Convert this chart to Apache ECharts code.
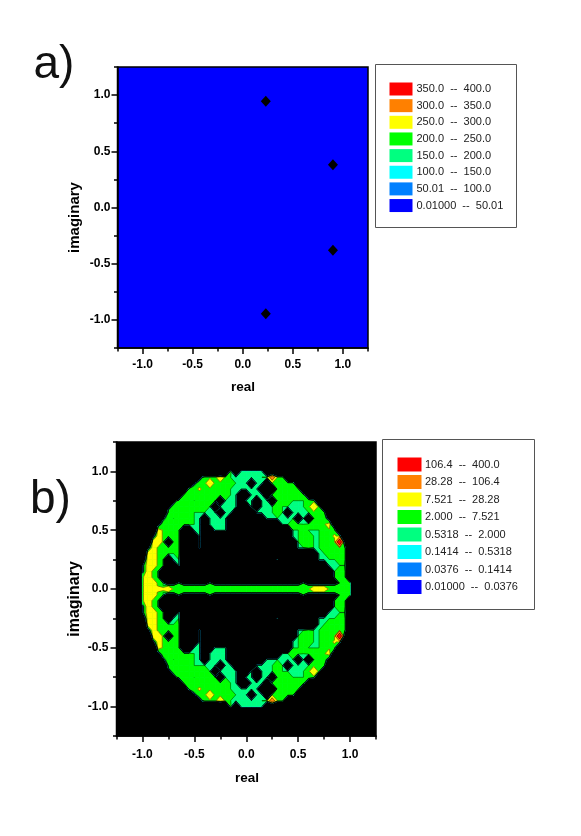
<!DOCTYPE html>
<html>
<head>
<meta charset="utf-8">
<title>contour</title>
<script src="https://cdn.jsdelivr.net/npm/echarts@6/dist/echarts.min.js"></script>
<style>
html, body { margin: 0; padding: 0; background: #fff; }
#main { width: 581px; height: 836px; }
</style>
</head>
<body>
<div id="main"></div>
<script>
// panel a: the four marked points
var pointsA = [[0.23, 0.945], [0.9, 0.38], [0.9, -0.38], [0.23, -0.945]];

// panel b: grid, x = -1.0 .. 1.0 step 0.05, upper half only (lower half is its mirror)
var rowY = [1.0, 0.95, 0.9, 0.85, 0.8, 0.75, 0.7, 0.65, 0.6, 0.55, 0.5, 0.45, 0.4, 0.35, 0.3, 0.25, 0.2, 0.15, 0.1, 0.05, 0.03];
var centreRow = "23333 32222 22222 22222 22222 22222 22233 32222 2";
var upperRows = [
  "00000 00000 00000 00201 11110 00000 00000 00000 0",
  "00000 00000 08222 32111 11112 42200 00000 00000 0",
  "00000 00000 92232 22211 10110 22222 00000 00000 0",
  "00000 00002 26222 22111 11100 02222 20000 00000 0",
  "00000 00022 22222 22110 01110 22222 22700 00000 0",
  "00000 08222 12221 01110 11011 02221 11220 00000 0",
  "00000 82222 22210 11110 01011 12111 11232 00000 0",
  "00000 22222 11111 01100 00111 12101 11122 20000 0",
  "00009 21222 11011 11000 00001 11111 01012 28000 0",
  "00082 22222 11011 11000 00000 00112 21222 23700 0",
  "00032 22200 11001 11000 00000 00001 12111 22200 0",
  "00832 22200 01000 00000 00000 00001 12211 22620 0",
  "00332 02200 01000 00000 00000 00000 12211 22250 0",
  "08322 22200 01000 00000 00000 00000 11211 22222 0",
  "03322 11200 00000 00000 00000 00000 00001 12222 0",
  "73321 01100 00000 00000 00000 01000 00001 11122 0",
  "93321 00100 00000 00000 00000 00000 00000 01111 0",
  "93210 00000 00000 00000 00000 00000 00000 00122 0",
  "23210 00000 00000 00000 00000 00000 00000 00122 0",
  "23321 00100 00010 00000 00000 00000 01000 00022 2",
  "23321 22222 22222 22222 22222 22222 22222 22222 2"
];
// what each digit in the rows stands for; 0 is a blank point, held far below the scale so colour stops sharply
// at its neighbours, and 7, 8, 9 are blank points that let the colour reach part of the way towards them
var levelValues = [-60, 1.9, 6.5, 12, 50, 200, 8, -20, -6.5, -2.2];

var thresholds = [0.01, 0.0376, 0.1414, 0.5318, 2, 7.521, 28.28, 106.4];
var bandColors = ["#0000ff", "#0080ff", "#00ffff", "#00ff80", "#00ff00", "#ffff00", "#ff8000", "#ff0000"];

var legendA = ["350.0  --  400.0", "300.0  --  350.0", "250.0  --  300.0", "200.0  --  250.0", "150.0  --  200.0", "100.0  --  150.0", "50.01  --  100.0", "0.01000  --  50.01"];
var legendB = ["106.4  --  400.0", "28.28  --  106.4", "7.521  --  28.28", "2.000  --  7.521", "0.5318  --  2.000", "0.1414  --  0.5318", "0.0376  --  0.1414", "0.01000  --  0.0376"];
var legendColors = bandColors.slice().reverse();

var majorTicks = [-1, -0.5, 0, 0.5, 1];
var minorTicks = [-1.25, -0.75, -0.25, 0.25, 0.75, 1.25];

var gridX = [];
for (var i = 0; i <= 40; i++) gridX.push(-1 + i * 0.05);

var gridY = rowY.concat([0], rowY.slice().reverse().map(function (y) { return -y; }));
var allRows = upperRows.concat([centreRow], upperRows.slice().reverse());
var gridV = allRows.map(function (row) {
  return row.replace(/ /g, "").split("").map(function (c) { return levelValues[+c]; });
});

var cells = [];
for (var r = 0; r < gridY.length - 1; r++) {
  for (var c = 0; c < gridX.length - 1; c++) {
    if (gridV[r][c] > 0 || gridV[r][c + 1] > 0 || gridV[r + 1][c] > 0 || gridV[r + 1][c + 1] > 0) cells.push([c, r]);
  }
}

function cellCorners(c, r) {
  return [
    { x: gridX[c], y: gridY[r], v: gridV[r][c] },
    { x: gridX[c + 1], y: gridY[r], v: gridV[r][c + 1] },
    { x: gridX[c + 1], y: gridY[r + 1], v: gridV[r + 1][c + 1] },
    { x: gridX[c], y: gridY[r + 1], v: gridV[r + 1][c] }
  ];
}

// walks round the cell once, gives the part above t and the points where t is crossed
function cutCell(corners, t) {
  var poly = [], cross = [];
  for (var k = 0; k < 4; k++) {
    var a = corners[k], b = corners[(k + 1) % 4];
    if (a.v >= t) poly.push([a.x, a.y]);
    if ((a.v >= t) !== (b.v >= t)) {
      var f = (t - a.v) / (b.v - a.v);
      var p = [a.x + (b.x - a.x) * f, a.y + (b.y - a.y) * f];
      poly.push(p);
      cross.push({ p: p, rising: b.v >= t });
    }
  }
  return { poly: poly, cross: cross };
}

// one series per band so the seams of a band never paint over the band above it
function bandSeries(t, n) {
  return {
    type: "custom",
    xAxisIndex: 2,
    yAxisIndex: 2,
    data: cells,
    clip: true,
    silent: true,
    z: 2 + n * 0.01,
    renderItem: function (params, api) {
      var cut = cutCell(cellCorners(api.value(0), api.value(1)), t);
      if (cut.poly.length < 3) return null;
      return {
        type: "polygon",
        shape: { points: cut.poly.map(function (p) { return api.coord(p); }) },
        style: { fill: bandColors[n], stroke: bandColors[n], lineWidth: 0.5 }
      };
    }
  };
}

function renderLines(params, api) {
  var corners = cellCorners(api.value(0), api.value(1));
  var children = [];
  thresholds.forEach(function (t) {
    var x = cutCell(corners, t).cross;
    if (!x.length) return;
    var start = x[0].rising ? 1 : 0;
    for (var k = 0; k < x.length; k += 2) {
      var p1 = api.coord(x[(start + k) % x.length].p);
      var p2 = api.coord(x[(start + k + 1) % x.length].p);
      children.push({
        type: "line",
        shape: { x1: p1[0], y1: p1[1], x2: p2[0], y2: p2[1] },
        style: { stroke: "#000", lineWidth: 0.6, opacity: 0.7 }
      });
    }
  });
  return { type: "group", children: children };
}

var tickFont = { fontFamily: "Liberation Sans", fontSize: 12, fontWeight: "bold", color: "#000" };

function makeAxes(side, gridIndex, margin) {
  var base = { type: "value", position: side, gridIndex: gridIndex, min: -1.25, max: 1.25, splitLine: { show: false } };
  var major = Object.assign({}, base, {
    axisLine: { onZero: false, lineStyle: { color: "#000", width: 1.5 } },
    axisTick: { length: 6, customValues: majorTicks, lineStyle: { color: "#000", width: 1.5 } },
    axisLabel: Object.assign({ customValues: majorTicks, margin: margin, formatter: function (v) { return v.toFixed(1); } }, tickFont)
  });
  var minor = Object.assign({}, base, {
    axisLine: { onZero: false, show: false },
    axisTick: { length: 3.5, customValues: minorTicks, lineStyle: { color: "#000", width: 1.5 } },
    axisLabel: { show: false }
  });
  return [major, minor];
}

function nameText(text, x, y, rotated, size) {
  return {
    type: "text",
    x: x,
    y: y,
    rotation: rotated ? Math.PI / 2 : 0,
    z: 10,
    style: { text: text, fontFamily: "Liberation Sans", fontSize: size, fontWeight: "bold", fill: "#000", align: "center", verticalAlign: "middle" }
  };
}

function panelText(text, x, y) {
  return {
    type: "text",
    x: x,
    y: y,
    z: 10,
    style: { text: text, fontFamily: "Liberation Sans", fontSize: 46, fill: "#111", verticalAlign: "middle" }
  };
}

function legendGraphics(labels, box, sw) {
  var out = [{
    type: "rect",
    shape: { x: box.x, y: box.y, width: box.w, height: box.h },
    style: { fill: "#fff", stroke: "#555", lineWidth: 1 }
  }];
  labels.forEach(function (text, n) {
    var y = sw.y + n * sw.pitch;
    out.push({
      type: "rect",
      shape: { x: sw.x, y: y, width: sw.w, height: sw.h },
      style: { fill: legendColors[n] }
    });
    out.push({
      type: "text",
      x: sw.x + sw.w + sw.pad,
      y: y + sw.h / 2,
      style: { text: text, fontFamily: "Liberation Sans", fontSize: 11, fill: "#222", verticalAlign: "middle" }
    });
  });
  return out;
}

var option = {
  animation: false,
  backgroundColor: "#fff",
  grid: [
    { left: 117.5, top: 67, width: 250.5, height: 281, show: true, backgroundColor: "#0000ff", borderColor: "#000", borderWidth: 1.5 },
    { left: 116.5, top: 442, width: 259.5, height: 294, show: true, backgroundColor: "#000", borderColor: "#000", borderWidth: 1.5 }
  ],
  xAxis: makeAxes("bottom", 0, 11).concat(makeAxes("bottom", 1, 13)),
  yAxis: makeAxes("left", 0, 7).concat(makeAxes("left", 1, 8)),
  series: [
    {
      type: "scatter",
      xAxisIndex: 0,
      yAxisIndex: 0,
      data: pointsA,
      symbol: "diamond",
      symbolSize: [10, 11],
      itemStyle: { color: "#000", opacity: 1 },
      silent: true
    }
  ].concat(thresholds.map(bandSeries), [
    { type: "custom", xAxisIndex: 2, yAxisIndex: 2, data: cells, renderItem: renderLines, clip: true, silent: true, z: 3 }
  ]),
  graphic: [
    panelText("a)", 33.5, 65.5),
    panelText("b)", 30, 500),
    nameText("real", 243, 387, false, 13.5),
    nameText("real", 247, 778, false, 13.5),
    nameText("imaginary", 75, 217.5, true, 15),
    nameText("imaginary", 75, 599, true, 16)
  ]
    .concat(legendGraphics(legendA, { x: 375.5, y: 64.5, w: 141, h: 163 }, { x: 389.5, y: 82.5, w: 23, h: 13, pitch: 16.65, pad: 4 }))
    .concat(legendGraphics(legendB, { x: 382.5, y: 439.5, w: 152, h: 170 }, { x: 397.5, y: 457.5, w: 24, h: 14, pitch: 17.5, pad: 3.5 }))
};

var myChart = echarts.init(document.getElementById("main"), null, { renderer: "canvas" });
myChart.setOption(option);
</script>
</body>
</html>
